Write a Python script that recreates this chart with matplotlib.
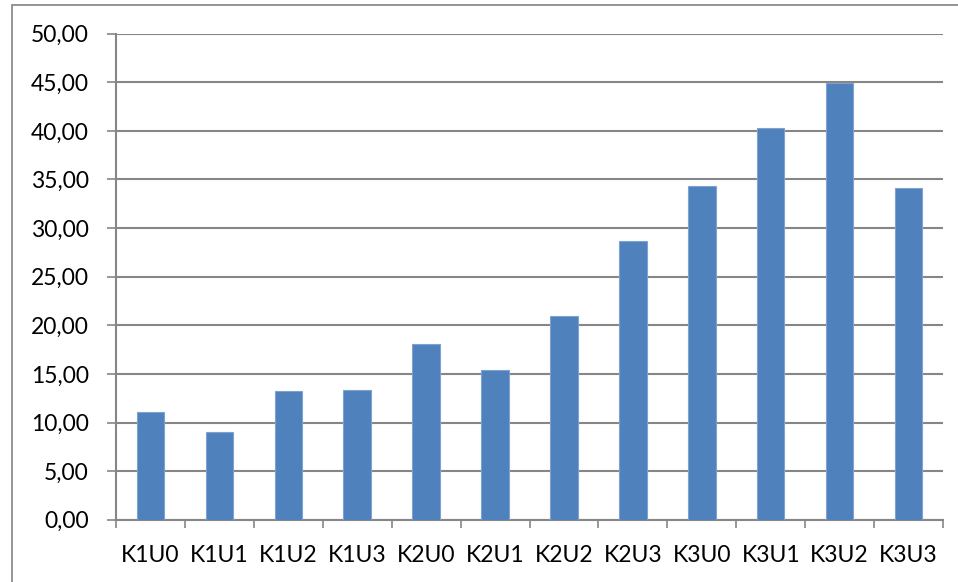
import matplotlib
matplotlib.use("Agg")
import matplotlib.pyplot as plt
from matplotlib.patches import Rectangle
import numpy as np

categories = ["K1U0", "K1U1", "K1U2", "K1U3", "K2U0", "K2U1",
              "K2U2", "K2U3", "K3U0", "K3U1", "K3U2", "K3U3"]
values = [11.11, 9.02, 13.24, 13.34, 18.10, 15.37,
          20.93, 28.67, 34.36, 40.30, 44.96, 34.13]
yticks = [0, 5, 10, 15, 20, 25, 30, 35, 40, 45, 50]

plt.rcParams['font.family'] = ['Lato', 'DejaVu Sans']

W, H = 958, 582
fig = plt.figure(figsize=(W / 100, H / 100), dpi=100)
fig.patch.set_facecolor("white")

# outer chart border
fig.patches.append(Rectangle((12 / W, -0.05), 1.0, 1 - 5 / H + 0.05,
                             transform=fig.transFigure, fill=False,
                             edgecolor="#8c8c8c", linewidth=1.3))

ax = fig.add_axes([116 / W, 1 - 519.7 / H, (943 - 116) / W, (519.7 - 33.7) / H])
x = np.arange(len(categories))
ax.bar(x, values, width=0.4, color="#4F81BD", edgecolor="#7EA3D0",
       linewidth=0.8, zorder=3)

ax.set_xlim(-0.5, len(categories) - 0.5)
ax.set_ylim(0, 50)
ax.set_yticks(yticks)
ax.set_yticklabels([f"{v:.2f}".replace(".", ",") for v in yticks])
ax.set_xticks(x)
ax.set_xticklabels(categories)
ax.set_xticks(np.arange(-0.5, len(categories), 1.0), minor=True)

ax.grid(axis="y", color="#868686", linewidth=1.5, zorder=0)
ax.set_axisbelow(True)
for s in ["top", "right"]:
    ax.spines[s].set_visible(False)
for s in ["left", "bottom"]:
    ax.spines[s].set_color("#868686")
    ax.spines[s].set_linewidth(1.5)

ax.tick_params(axis="y", length=6.5, width=1.2, color="#868686", pad=13,
               labelsize=16.5, labelcolor="black")
ax.tick_params(axis="x", which="major", length=0, pad=18, labelsize=16.5,
               labelcolor="black")
ax.tick_params(axis="x", which="minor", length=5.5, width=1.2, color="#868686")

fig.savefig("out.png", dpi=100, facecolor="white")
